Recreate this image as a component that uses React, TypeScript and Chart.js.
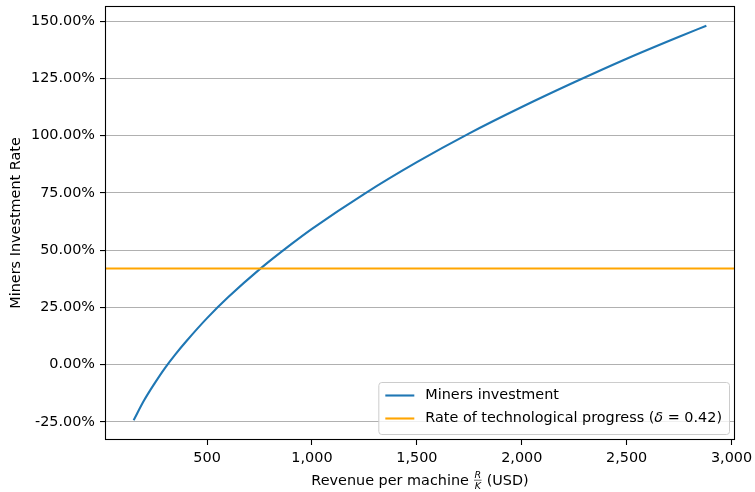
import React, { useEffect, useRef } from "react";
import { Chart, registerables } from "chart.js";

Chart.register(...registerables);

// Data
const revenue = [150, 200, 250, 300, 350, 400, 500, 600, 750, 900, 1000, 1250, 1500, 1750, 2000, 2250, 2500, 2750, 2880];
const investment = [-0.243, -0.156, -0.082, -0.014, 0.046, 0.101, 0.203, 0.294, 0.416, 0.525, 0.593, 0.746, 0.884, 1.01, 1.125, 1.233, 1.336, 1.432, 1.48];
const techProgressRate = 0.42;
const xTicks = [500, 1000, 1500, 2000, 2500, 3000];
const yTicks = [-0.25, 0, 0.25, 0.5, 0.75, 1.0, 1.25, 1.5];
const seriesLabels = ["Miners investment", "Rate of technological progress"];

const FONT = "'DejaVu Sans', sans-serif";
const FS = 14.4;
const BLUE = "#1f77b4";
const ORANGE = "#ffa500";

const frameTitlesLegend = {
  id: "frameTitlesLegend",
  afterDraw(chart: any) {
    const { ctx, chartArea } = chart;
    const { left, right, top, bottom } = chartArea;
    ctx.save();

    // frame (spines)
    ctx.strokeStyle = "#000";
    ctx.lineWidth = 1.1;
    ctx.strokeRect(left + 0.5, top + 0.5, right - left - 1, bottom - top - 1);

    // y title
    ctx.save();
    ctx.fillStyle = "#000";
    ctx.font = `${FS}px ${FONT}`;
    ctx.translate(20, (top + bottom) / 2);
    ctx.rotate(-Math.PI / 2);
    ctx.textAlign = "center";
    ctx.textBaseline = "alphabetic";
    ctx.fillText("Miners Investment Rate", 0, 0);
    ctx.restore();

    // x title with fraction R/K
    ctx.fillStyle = "#000";
    ctx.textBaseline = "alphabetic";
    ctx.textAlign = "left";
    const part1 = "Revenue per machine ";
    const part3 = " (USD)";
    ctx.font = `${FS}px ${FONT}`;
    const w1 = ctx.measureText(part1).width;
    const w3 = ctx.measureText(part3).width;
    ctx.font = `italic 9.5px ${FONT}`;
    const wR = ctx.measureText("R").width;
    const wK = ctx.measureText("K").width;
    const wf = Math.max(wR, wK) + 2;
    const total = w1 + wf + w3;
    let x = (left + right) / 2 - total / 2;
    const base = 485;
    ctx.font = `${FS}px ${FONT}`;
    ctx.fillText(part1, x, base);
    x += w1;
    ctx.font = `italic 9.5px ${FONT}`;
    ctx.fillText("R", x + (wf - wR) / 2, base - 7);
    ctx.fillText("K", x + (wf - wK) / 2, base + 3.5);
    ctx.strokeStyle = "#000";
    ctx.lineWidth = 0.6;
    ctx.beginPath();
    ctx.moveTo(x + 0.5, base - 4.8);
    ctx.lineTo(x + wf - 0.5, base - 4.8);
    ctx.stroke();
    x += wf;
    ctx.font = `${FS}px ${FONT}`;
    ctx.fillText(part3, x, base);

    // legend
    ctx.font = `${FS}px ${FONT}`;
    const lab2a = seriesLabels[1] + " (";
    const lab2c = " = " + techProgressRate.toFixed(2) + ")";
    const wa = ctx.measureText(lab2a).width;
    const wc = ctx.measureText(lab2c).width;
    ctx.font = `italic ${FS}px ${FONT}`;
    const wd = ctx.measureText("δ").width;
    ctx.font = `${FS}px ${FONT}`;
    const textW = Math.max(ctx.measureText(seriesLabels[0]).width, wa + wd + wc);
    const boxW = 7 + 29 + 11 + textW + 7;
    const boxH = 52;
    const bx = right - 6 - boxW;
    const by = bottom - 6 - boxH;
    ctx.fillStyle = "rgba(255,255,255,0.8)";
    ctx.strokeStyle = "#cccccc";
    ctx.lineWidth = 1;
    ctx.beginPath();
    ctx.roundRect(bx + 0.5, by + 0.5, boxW, boxH, 3);
    ctx.fill();
    ctx.stroke();

    const rows = [by + 13.5, by + 36.5];
    const colors = [BLUE, ORANGE];
    rows.forEach((ry, i) => {
      ctx.strokeStyle = colors[i];
      ctx.lineWidth = 2.1;
      ctx.beginPath();
      ctx.moveTo(bx + 7, ry);
      ctx.lineTo(bx + 36, ry);
      ctx.stroke();
    });
    ctx.fillStyle = "#000";
    ctx.textBaseline = "middle";
    const tx = bx + 47;
    ctx.font = `${FS}px ${FONT}`;
    ctx.fillText(seriesLabels[0], tx, rows[0]);
    ctx.fillText(lab2a, tx, rows[1]);
    ctx.font = `italic ${FS}px ${FONT}`;
    ctx.fillText("δ", tx + wa, rows[1]);
    ctx.font = `${FS}px ${FONT}`;
    ctx.fillText(lab2c, tx + wa + wd, rows[1]);

    ctx.restore();
  },
};

export default function App() {
  const ref = useRef<HTMLCanvasElement>(null);

  useEffect(() => {
    if (!ref.current) return;
    Chart.defaults.font.family = FONT;
    Chart.defaults.font.size = FS;
    Chart.defaults.color = "#000";

    const xMinD = Math.min(...revenue);
    const xMaxD = Math.max(...revenue);
    const yMinD = Math.min(...investment, techProgressRate);
    const yMaxD = Math.max(...investment, techProgressRate);
    const xPad = (xMaxD - xMinD) * 0.05;
    const yPad = (yMaxD - yMinD) * 0.05;
    const xMin = xMinD - xPad;
    const xMax = xMaxD + xPad;
    const yMin = yMinD - yPad;
    const yMax = yMaxD + yPad;

    const chart = new Chart(ref.current, {
      type: "line",
      data: {
        datasets: [
          {
            label: seriesLabels[0],
            data: revenue.map((r, i) => ({ x: r, y: investment[i] })),
            borderColor: BLUE,
            borderWidth: 2.1,
            pointRadius: 0,
            cubicInterpolationMode: "monotone",
            fill: false,
            order: 1,
          },
          {
            label: seriesLabels[1],
            data: [
              { x: xMin, y: techProgressRate },
              { x: xMax, y: techProgressRate },
            ],
            borderColor: ORANGE,
            borderWidth: 2.1,
            pointRadius: 0,
            fill: false,
            order: 0,
          },
        ],
      },
      options: {
        responsive: false,
        devicePixelRatio: 1,
        animation: false,
        layout: { padding: { top: 6, right: 20, left: 0, bottom: 0 } },
        plugins: { legend: { display: false }, tooltip: { enabled: false } },
        scales: {
          x: {
            type: "linear",
            min: xMin,
            max: xMax,
            border: { display: false },
            grid: { drawOnChartArea: false, tickLength: 5, tickColor: "#000", tickWidth: 1.1 },
            ticks: {
              padding: 5,
              maxRotation: 0,
              color: "#000",
              font: { size: FS, family: FONT },
              callback: (v: any) => Number(v).toLocaleString("en-US"),
            },
            afterBuildTicks: (axis: any) => {
              axis.ticks = xTicks.map((v) => ({ value: v }));
            },
            afterFit: (axis: any) => {
              axis.height = 52;
              axis.paddingLeft = 0;
              axis.paddingRight = 0;
            },
          },
          y: {
            type: "linear",
            min: yMin,
            max: yMax,
            border: { display: false },
            grid: { color: "#b0b0b0", lineWidth: 1.1, tickLength: 5, tickColor: "#000", tickWidth: 1.1 },
            ticks: {
              padding: 5,
              color: "#000",
              font: { size: FS, family: FONT },
              callback: (v: any) => (Number(v) * 100).toFixed(2) + "%",
            },
            afterBuildTicks: (axis: any) => {
              axis.ticks = yTicks.map((v) => ({ value: v }));
            },
            afterFit: (axis: any) => {
              axis.width = 105;
              axis.paddingTop = 0;
              axis.paddingBottom = 0;
            },
          },
        },
      } as any,
      plugins: [frameTitlesLegend],
    });
    return () => chart.destroy();
  }, []);

  return (
    <div style={{ position: "fixed", left: 0, top: 0, width: 755, height: 492, background: "#fff" }}>
      <canvas ref={ref} width={755} height={492} />
    </div>
  );
}
